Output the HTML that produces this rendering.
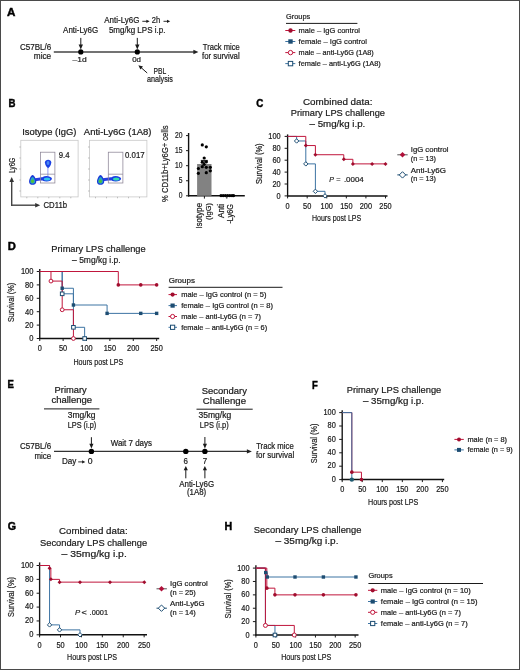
<!DOCTYPE html>
<html><head><meta charset="utf-8"><title>Figure</title>
<style>
html,body{margin:0;padding:0;background:#fff;}
svg{display:block;will-change:transform;}
text{font-family:"Liberation Sans",sans-serif;fill:#1a1a1a;stroke:#1a1a1a;stroke-width:0.2px;}
</style></head><body>
<svg width="520" height="670" viewBox="0 0 520 670">
<rect x="0.5" y="0.5" width="519" height="669" fill="#fff" stroke="#4a4a4a" stroke-width="1"/>
<text x="6.90" y="15.90" font-size="11.4" style="stroke-width:0.45px;fill:#000;stroke:#000" textLength="8.40" lengthAdjust="spacingAndGlyphs" font-weight="bold">A</text>
<text x="8.60" y="106.60" font-size="11.4" style="stroke-width:0.45px;fill:#000;stroke:#000" textLength="7.00" lengthAdjust="spacingAndGlyphs" font-weight="bold">B</text>
<text x="256.20" y="106.80" font-size="11.4" style="stroke-width:0.45px;fill:#000;stroke:#000" textLength="7.10" lengthAdjust="spacingAndGlyphs" font-weight="bold">C</text>
<text x="7.80" y="250.30" font-size="11.4" style="stroke-width:0.45px;fill:#000;stroke:#000" textLength="8.10" lengthAdjust="spacingAndGlyphs" font-weight="bold">D</text>
<text x="7.40" y="388.20" font-size="11.4" style="stroke-width:0.45px;fill:#000;stroke:#000" textLength="6.40" lengthAdjust="spacingAndGlyphs" font-weight="bold">E</text>
<text x="312.10" y="388.60" font-size="11.4" style="stroke-width:0.45px;fill:#000;stroke:#000" textLength="5.80" lengthAdjust="spacingAndGlyphs" font-weight="bold">F</text>
<text x="7.70" y="529.70" font-size="11.4" style="stroke-width:0.45px;fill:#000;stroke:#000" textLength="8.30" lengthAdjust="spacingAndGlyphs" font-weight="bold">G</text>
<text x="224.60" y="529.80" font-size="11.4" style="stroke-width:0.45px;fill:#000;stroke:#000" textLength="7.70" lengthAdjust="spacingAndGlyphs" font-weight="bold">H</text>
<text x="20.00" y="50.00" font-size="8.3" textLength="31.20" lengthAdjust="spacingAndGlyphs">C57BL/6</text>
<text x="33.80" y="58.80" font-size="8.3" textLength="17.40" lengthAdjust="spacingAndGlyphs">mice</text>
<line x1="53.80" y1="52.00" x2="194.00" y2="52.00" stroke="#444" stroke-width="1.5"/>
<polygon points="198.40,52.00 193.40,54.20 193.40,49.80" fill="#222"/>
<circle cx="80.80" cy="51.90" r="2.6" fill="#000"/>
<circle cx="137.30" cy="51.90" r="2.6" fill="#000"/>
<line x1="80.80" y1="37.90" x2="80.80" y2="45.40" stroke="#1a1a1a" stroke-width="1"/>
<polygon points="80.80,49.40 78.60,44.40 83.00,44.40" fill="#1a1a1a"/>
<line x1="137.30" y1="37.90" x2="137.30" y2="45.40" stroke="#1a1a1a" stroke-width="1"/>
<polygon points="137.30,49.40 135.10,44.40 139.50,44.40" fill="#1a1a1a"/>
<text x="63.10" y="32.70" font-size="8.3" textLength="35.10" lengthAdjust="spacingAndGlyphs">Anti-Ly6G</text>
<text x="104.30" y="23.10" font-size="8.3" textLength="35.10" lengthAdjust="spacingAndGlyphs">Anti-Ly6G</text>
<line x1="142.30" y1="21.30" x2="147.04" y2="21.30" stroke="#1a1a1a" stroke-width="0.9"/>
<polygon points="149.60,21.30 146.40,22.90 146.40,19.70" fill="#1a1a1a"/>
<text x="151.80" y="23.10" font-size="8.3" textLength="8.40" lengthAdjust="spacingAndGlyphs">2h</text>
<line x1="163.50" y1="21.30" x2="167.64" y2="21.30" stroke="#1a1a1a" stroke-width="0.9"/>
<polygon points="170.20,21.30 167.00,22.90 167.00,19.70" fill="#1a1a1a"/>
<text x="108.90" y="32.80" font-size="8.3" textLength="56.50" lengthAdjust="spacingAndGlyphs">5mg/kg LPS i.p.</text>
<text x="72.50" y="62.30" font-size="7.6" textLength="14.10" lengthAdjust="spacingAndGlyphs">–1d</text>
<text x="132.20" y="62.30" font-size="7.6" textLength="8.80" lengthAdjust="spacingAndGlyphs">0d</text>
<line x1="147.20" y1="73.00" x2="141.03" y2="67.53" stroke="#1a1a1a" stroke-width="1"/>
<polygon points="138.40,65.20 143.02,66.62 140.37,69.62" fill="#1a1a1a"/>
<text x="153.50" y="73.80" font-size="8.3" textLength="12.70" lengthAdjust="spacingAndGlyphs">PBL</text>
<text x="146.90" y="82.30" font-size="8.3" textLength="26.10" lengthAdjust="spacingAndGlyphs">analysis</text>
<text x="202.80" y="49.70" font-size="8.3" textLength="36.90" lengthAdjust="spacingAndGlyphs">Track mice</text>
<text x="202.00" y="58.90" font-size="8.3" textLength="37.70" lengthAdjust="spacingAndGlyphs">for survival</text>
<text x="286.00" y="18.70" font-size="7.6" textLength="24.20" lengthAdjust="spacingAndGlyphs">Groups</text>
<line x1="286.00" y1="23.40" x2="357.40" y2="23.40" stroke="#1a1a1a" stroke-width="1"/>
<line x1="285.30" y1="30.50" x2="295.30" y2="30.50" stroke="#c0163c" stroke-width="1"/>
<circle cx="290.50" cy="30.50" r="2.2" fill="#a10d2e"/>
<text x="298.60" y="32.90" font-size="7.6" textLength="61.40" lengthAdjust="spacingAndGlyphs">male – IgG control</text>
<line x1="285.30" y1="41.50" x2="295.30" y2="41.50" stroke="#3d74a3" stroke-width="1"/>
<rect x="288.30" y="39.30" width="4.40" height="4.40" fill="#1d4d72"/>
<text x="298.60" y="43.90" font-size="7.6" textLength="68.30" lengthAdjust="spacingAndGlyphs">female – IgG control</text>
<line x1="285.30" y1="52.60" x2="295.30" y2="52.60" stroke="#c0163c" stroke-width="1"/>
<circle cx="290.50" cy="52.60" r="2.2" fill="#fff" stroke="#c0163c" stroke-width="1"/>
<text x="298.60" y="55.00" font-size="7.6" textLength="75.20" lengthAdjust="spacingAndGlyphs">male – anti-Ly6G (1A8)</text>
<line x1="285.30" y1="63.60" x2="295.30" y2="63.60" stroke="#3d74a3" stroke-width="1"/>
<rect x="288.30" y="61.40" width="4.40" height="4.40" fill="#fff" stroke="#1d4d72" stroke-width="1"/>
<text x="298.60" y="66.00" font-size="7.6" textLength="82.20" lengthAdjust="spacingAndGlyphs">female – anti-Ly6G (1A8)</text>
<text x="22.20" y="135.40" font-size="8.4" textLength="54.30" lengthAdjust="spacingAndGlyphs">Isotype (IgG)</text>
<text x="83.80" y="135.40" font-size="8.4" textLength="67.70" lengthAdjust="spacingAndGlyphs">Anti-Ly6G (1A8)</text>
<rect x="20.8" y="140.3" width="57.3" height="56.6" fill="none" stroke="#c8c8c8" stroke-width="0.8"/>
<line x1="19.30" y1="147.00" x2="20.80" y2="147.00" stroke="#999" stroke-width="0.6"/>
<line x1="26.80" y1="196.90" x2="26.80" y2="198.30" stroke="#999" stroke-width="0.6"/>
<line x1="19.30" y1="158.00" x2="20.80" y2="158.00" stroke="#999" stroke-width="0.6"/>
<line x1="37.80" y1="196.90" x2="37.80" y2="198.30" stroke="#999" stroke-width="0.6"/>
<line x1="19.30" y1="169.00" x2="20.80" y2="169.00" stroke="#999" stroke-width="0.6"/>
<line x1="48.80" y1="196.90" x2="48.80" y2="198.30" stroke="#999" stroke-width="0.6"/>
<line x1="19.30" y1="180.00" x2="20.80" y2="180.00" stroke="#999" stroke-width="0.6"/>
<line x1="59.80" y1="196.90" x2="59.80" y2="198.30" stroke="#999" stroke-width="0.6"/>
<line x1="19.30" y1="191.00" x2="20.80" y2="191.00" stroke="#999" stroke-width="0.6"/>
<line x1="70.80" y1="196.90" x2="70.80" y2="198.30" stroke="#999" stroke-width="0.6"/>
<rect x="89.5" y="140.3" width="57.4" height="56.6" fill="none" stroke="#c8c8c8" stroke-width="0.8"/>
<line x1="88.00" y1="147.00" x2="89.50" y2="147.00" stroke="#999" stroke-width="0.6"/>
<line x1="95.50" y1="196.90" x2="95.50" y2="198.30" stroke="#999" stroke-width="0.6"/>
<line x1="88.00" y1="158.00" x2="89.50" y2="158.00" stroke="#999" stroke-width="0.6"/>
<line x1="106.50" y1="196.90" x2="106.50" y2="198.30" stroke="#999" stroke-width="0.6"/>
<line x1="88.00" y1="169.00" x2="89.50" y2="169.00" stroke="#999" stroke-width="0.6"/>
<line x1="117.50" y1="196.90" x2="117.50" y2="198.30" stroke="#999" stroke-width="0.6"/>
<line x1="88.00" y1="180.00" x2="89.50" y2="180.00" stroke="#999" stroke-width="0.6"/>
<line x1="128.50" y1="196.90" x2="128.50" y2="198.30" stroke="#999" stroke-width="0.6"/>
<line x1="88.00" y1="191.00" x2="89.50" y2="191.00" stroke="#999" stroke-width="0.6"/>
<line x1="139.50" y1="196.90" x2="139.50" y2="198.30" stroke="#999" stroke-width="0.6"/>
<text x="58.80" y="157.70" font-size="8.4" textLength="10.80" lengthAdjust="spacingAndGlyphs">9.4</text>
<text x="125.00" y="157.70" font-size="8.4" textLength="19.60" lengthAdjust="spacingAndGlyphs">0.017</text>
<path d="M35.0,178.3 C37.5,177.9 39.5,177.6 42.0,177.2 L42.0,180.4 C39.5,180.4 37.5,180.6 35.0,181.2 Z" fill="#2a3ee0"/>
<ellipse cx="46.5" cy="178.8" rx="5.4" ry="2.7" fill="#1b3ee4"/>
<ellipse cx="47.0" cy="179.0" rx="3.2" ry="1.6" fill="#33c4ee"/>
<path d="M32.6,175.0 C34.2,175.2 36.4,179.4 36.3,182.0 C36.2,184.2 34.0,184.8 32.6,184.8 C31.0,184.8 29.1,184.2 29.1,182.0 C29.0,179.4 31.0,175.2 32.6,175.0 Z" fill="#1a3ad8"/>
<path d="M32.6,177.0 C33.8,177.3 35.2,180.0 35.1,181.8 C35.0,183.3 33.8,183.7 32.6,183.7 C31.4,183.7 30.2,183.3 30.2,181.8 C30.1,180.0 31.4,177.3 32.6,177.0 Z" fill="#26a6c4"/>
<ellipse cx="32.5" cy="181.3" rx="1.5" ry="1.8" fill="#52c03a"/>
<line x1="47.90" y1="167.50" x2="47.90" y2="176.00" stroke="#7c84ee" stroke-width="0.8"/>
<path d="M44.9,162.4 C44.9,158.9 51.3,158.9 51.3,162.4 C51.3,164.8 49.4,167.2 48.1,168.2 C46.8,167.2 44.9,164.8 44.9,162.4 Z" fill="#1b40e4"/>
<ellipse cx="48.0" cy="163.0" rx="1.4" ry="2.0" fill="#4a88f4"/>
<path d="M102.9,178.3 C105.4,177.9 107.4,177.6 111.2,177.2 L111.2,180.4 C107.4,180.4 105.4,180.6 102.9,181.2 Z" fill="#2a3ee0"/>
<ellipse cx="115.7" cy="178.8" rx="5.4" ry="2.7" fill="#1b3ee4"/>
<ellipse cx="116.2" cy="179.0" rx="3.2" ry="1.6" fill="#34dcb0"/>
<path d="M100.5,175.0 C102.1,175.2 104.3,179.4 104.2,182.0 C104.1,184.2 101.9,184.8 100.5,184.8 C98.9,184.8 97.0,184.2 97.0,182.0 C96.9,179.4 98.9,175.2 100.5,175.0 Z" fill="#1a3ad8"/>
<path d="M100.5,177.0 C101.7,177.3 103.1,180.0 103.0,181.8 C102.9,183.3 101.7,183.7 100.5,183.7 C99.3,183.7 98.1,183.3 98.1,181.8 C98.0,180.0 99.3,177.3 100.5,177.0 Z" fill="#26a6c4"/>
<ellipse cx="100.4" cy="181.3" rx="1.5" ry="1.8" fill="#52c03a"/>
<rect x="40.6" y="152.2" width="14.3" height="30.8" fill="none" stroke="#8c8496" stroke-width="0.75"/>
<line x1="40.60" y1="174.20" x2="54.90" y2="174.20" stroke="#8c8496" stroke-width="0.75"/>
<rect x="108.3" y="152.2" width="14.6" height="30.8" fill="none" stroke="#8c8496" stroke-width="0.75"/>
<line x1="108.30" y1="174.20" x2="122.90" y2="174.20" stroke="#8c8496" stroke-width="0.75"/>
<line x1="11.70" y1="205.90" x2="11.70" y2="181.00" stroke="#444" stroke-width="1.4"/>
<polygon points="11.70,177.10 14.00,182.10 9.40,182.10" fill="#333"/>
<line x1="11.00" y1="205.20" x2="36.00" y2="205.20" stroke="#444" stroke-width="1.4"/>
<polygon points="40.20,205.20 35.20,207.50 35.20,202.90" fill="#333"/>
<text transform="translate(15.00,173.00) rotate(-90)" x="0" y="0" font-size="8.2" textLength="15.30" lengthAdjust="spacingAndGlyphs" fill="#1a1a1a">Ly6G</text>
<text x="43.50" y="208.40" font-size="8.2" textLength="23.50" lengthAdjust="spacingAndGlyphs">CD11b</text>
<line x1="188.60" y1="133.00" x2="188.60" y2="196.50" stroke="#111" stroke-width="1.4"/>
<line x1="188.00" y1="195.80" x2="244.80" y2="195.80" stroke="#111" stroke-width="1.4"/>
<line x1="186.00" y1="195.80" x2="188.60" y2="195.80" stroke="#1a1a1a" stroke-width="1"/>
<text x="178.85" y="198.20" font-size="8.2" textLength="3.75" lengthAdjust="spacingAndGlyphs">0</text>
<line x1="186.00" y1="180.75" x2="188.60" y2="180.75" stroke="#1a1a1a" stroke-width="1"/>
<text x="178.85" y="183.15" font-size="8.2" textLength="3.75" lengthAdjust="spacingAndGlyphs">5</text>
<line x1="186.00" y1="165.70" x2="188.60" y2="165.70" stroke="#1a1a1a" stroke-width="1"/>
<text x="175.10" y="168.10" font-size="8.2" textLength="7.50" lengthAdjust="spacingAndGlyphs">10</text>
<line x1="186.00" y1="150.65" x2="188.60" y2="150.65" stroke="#1a1a1a" stroke-width="1"/>
<text x="175.10" y="153.05" font-size="8.2" textLength="7.50" lengthAdjust="spacingAndGlyphs">15</text>
<line x1="186.00" y1="135.60" x2="188.60" y2="135.60" stroke="#1a1a1a" stroke-width="1"/>
<text x="175.10" y="138.00" font-size="8.2" textLength="7.50" lengthAdjust="spacingAndGlyphs">20</text>
<rect x="197.1" y="164.0" width="14.4" height="31.8" fill="#828282"/>
<line x1="204.30" y1="160.40" x2="204.30" y2="164.00" stroke="#1a1a1a" stroke-width="1"/>
<line x1="200.80" y1="160.40" x2="207.80" y2="160.40" stroke="#1a1a1a" stroke-width="1"/>
<circle cx="202.30" cy="144.90" r="1.6" fill="#000"/>
<circle cx="206.30" cy="146.80" r="1.6" fill="#000"/>
<circle cx="204.20" cy="158.00" r="1.6" fill="#000"/>
<circle cx="202.30" cy="162.20" r="1.6" fill="#000"/>
<circle cx="206.40" cy="161.80" r="1.6" fill="#000"/>
<circle cx="202.30" cy="166.70" r="1.6" fill="#000"/>
<circle cx="206.30" cy="167.30" r="1.6" fill="#000"/>
<circle cx="210.30" cy="167.30" r="1.6" fill="#000"/>
<circle cx="198.40" cy="168.50" r="1.6" fill="#000"/>
<circle cx="210.30" cy="170.80" r="1.6" fill="#000"/>
<circle cx="198.40" cy="173.30" r="1.6" fill="#000"/>
<circle cx="206.30" cy="172.70" r="1.6" fill="#000"/>
<circle cx="204.20" cy="164.30" r="1.6" fill="#000"/>
<circle cx="221.00" cy="195.60" r="1.6" fill="#000"/>
<circle cx="223.20" cy="195.60" r="1.6" fill="#000"/>
<circle cx="225.40" cy="195.60" r="1.6" fill="#000"/>
<circle cx="227.60" cy="195.60" r="1.6" fill="#000"/>
<circle cx="229.80" cy="195.60" r="1.6" fill="#000"/>
<circle cx="232.00" cy="195.60" r="1.6" fill="#000"/>
<circle cx="233.60" cy="195.60" r="1.6" fill="#000"/>
<line x1="204.40" y1="196.00" x2="204.40" y2="198.60" stroke="#1a1a1a" stroke-width="1"/>
<line x1="226.80" y1="196.00" x2="226.80" y2="198.60" stroke="#1a1a1a" stroke-width="1"/>
<text transform="translate(168.00,202.00) rotate(-90)" x="0" y="0" font-size="9.4" textLength="76.60" lengthAdjust="spacingAndGlyphs" fill="#1a1a1a">% CD11b+Ly6G+ cells</text>
<text transform="translate(201.90,228.60) rotate(-90)" x="0" y="0" font-size="8.4" textLength="25.70" lengthAdjust="spacingAndGlyphs" fill="#1a1a1a">Isotype</text>
<text transform="translate(211.00,220.00) rotate(-90)" x="0" y="0" font-size="8.0" textLength="16.90" lengthAdjust="spacingAndGlyphs" fill="#1a1a1a">(IgG)</text>
<text transform="translate(223.80,218.10) rotate(-90)" x="0" y="0" font-size="8.5" textLength="14.30" lengthAdjust="spacingAndGlyphs" fill="#1a1a1a">Anti</text>
<text transform="translate(233.10,223.60) rotate(-90)" x="0" y="0" font-size="8.3" textLength="19.60" lengthAdjust="spacingAndGlyphs" fill="#1a1a1a">-Ly6G</text>
<text x="303.00" y="105.20" font-size="9.3" textLength="69.50" lengthAdjust="spacingAndGlyphs">Combined data:</text>
<text x="290.80" y="116.40" font-size="9.3" textLength="94.20" lengthAdjust="spacingAndGlyphs">Primary LPS challenge</text>
<text x="309.50" y="127.30" font-size="9.3" textLength="55.80" lengthAdjust="spacingAndGlyphs">– 5mg/kg i.p.</text>
<line x1="287.60" y1="134.40" x2="287.60" y2="196.50" stroke="#111" stroke-width="1.35"/>
<line x1="287.00" y1="195.90" x2="387.50" y2="195.90" stroke="#111" stroke-width="1.5"/>
<line x1="284.60" y1="195.90" x2="287.60" y2="195.90" stroke="#1a1a1a" stroke-width="1"/>
<line x1="284.60" y1="184.00" x2="287.60" y2="184.00" stroke="#1a1a1a" stroke-width="1"/>
<line x1="284.60" y1="172.10" x2="287.60" y2="172.10" stroke="#1a1a1a" stroke-width="1"/>
<line x1="284.60" y1="160.20" x2="287.60" y2="160.20" stroke="#1a1a1a" stroke-width="1"/>
<line x1="284.60" y1="148.30" x2="287.60" y2="148.30" stroke="#1a1a1a" stroke-width="1"/>
<line x1="284.60" y1="136.40" x2="287.60" y2="136.40" stroke="#1a1a1a" stroke-width="1"/>
<line x1="287.60" y1="195.90" x2="287.60" y2="198.40" stroke="#1a1a1a" stroke-width="1"/>
<line x1="307.18" y1="195.90" x2="307.18" y2="198.40" stroke="#1a1a1a" stroke-width="1"/>
<line x1="326.76" y1="195.90" x2="326.76" y2="198.40" stroke="#1a1a1a" stroke-width="1"/>
<line x1="346.34" y1="195.90" x2="346.34" y2="198.40" stroke="#1a1a1a" stroke-width="1"/>
<line x1="365.92" y1="195.90" x2="365.92" y2="198.40" stroke="#1a1a1a" stroke-width="1"/>
<line x1="385.50" y1="195.90" x2="385.50" y2="198.40" stroke="#1a1a1a" stroke-width="1"/>
<text x="276.50" y="198.55" font-size="8.2" textLength="4.10" lengthAdjust="spacingAndGlyphs">0</text>
<text x="272.40" y="186.65" font-size="8.2" textLength="8.20" lengthAdjust="spacingAndGlyphs">20</text>
<text x="272.40" y="174.75" font-size="8.2" textLength="8.20" lengthAdjust="spacingAndGlyphs">40</text>
<text x="272.40" y="162.85" font-size="8.2" textLength="8.20" lengthAdjust="spacingAndGlyphs">60</text>
<text x="272.40" y="150.95" font-size="8.2" textLength="8.20" lengthAdjust="spacingAndGlyphs">80</text>
<text x="268.30" y="139.05" font-size="8.2" textLength="12.30" lengthAdjust="spacingAndGlyphs">100</text>
<text x="285.55" y="208.70" font-size="8.2" textLength="4.10" lengthAdjust="spacingAndGlyphs">0</text>
<text x="303.08" y="208.70" font-size="8.2" textLength="8.20" lengthAdjust="spacingAndGlyphs">50</text>
<text x="320.61" y="208.70" font-size="8.2" textLength="12.30" lengthAdjust="spacingAndGlyphs">100</text>
<text x="340.19" y="208.70" font-size="8.2" textLength="12.30" lengthAdjust="spacingAndGlyphs">150</text>
<text x="359.77" y="208.70" font-size="8.2" textLength="12.30" lengthAdjust="spacingAndGlyphs">200</text>
<text x="379.35" y="208.70" font-size="8.2" textLength="12.30" lengthAdjust="spacingAndGlyphs">250</text>
<text transform="translate(261.50,184.00) rotate(-90)" x="0" y="0" font-size="9.4" textLength="40.60" lengthAdjust="spacingAndGlyphs" fill="#1a1a1a">Survival (%)</text>
<text x="311.90" y="220.80" font-size="9.1" textLength="49.30" lengthAdjust="spacingAndGlyphs">Hours post LPS</text>
<text x="329.30" y="181.90" font-size="8.0" textLength="4.70" lengthAdjust="spacingAndGlyphs" font-style="italic">P</text>
<text x="336.30" y="181.90" font-size="8.0" textLength="4.30" lengthAdjust="spacingAndGlyphs">=</text>
<text x="343.90" y="181.90" font-size="8.0" textLength="19.90" lengthAdjust="spacingAndGlyphs">.0004</text>
<path d="M287.60,136.40 L296.61,136.40 L296.61,140.98 L305.81,140.98 L305.81,163.89 L315.40,163.89 L315.40,191.32 L325.00,191.32 L325.00,195.90" fill="none" stroke="#3d74a3" stroke-width="1.0"/>
<path d="M287.60,136.40 L305.81,136.40 L305.81,145.56 L315.40,145.56 L315.40,154.73 L343.79,154.73 L343.79,159.31 L352.88,159.31 L352.88,163.89 L385.50,163.89" fill="none" stroke="#c0163c" stroke-width="1.0"/>
<polygon points="305.81,143.56 307.81,145.56 305.81,147.56 303.81,145.56" fill="#a10d2e"/>
<polygon points="315.40,152.73 317.40,154.73 315.40,156.73 313.40,154.73" fill="#a10d2e"/>
<polygon points="343.79,157.31 345.79,159.31 343.79,161.31 341.79,159.31" fill="#a10d2e"/>
<polygon points="352.88,161.89 354.88,163.89 352.88,165.89 350.88,163.89" fill="#a10d2e"/>
<polygon points="372.11,161.89 374.11,163.89 372.11,165.89 370.11,163.89" fill="#a10d2e"/>
<polygon points="385.50,161.89 387.50,163.89 385.50,165.89 383.50,163.89" fill="#a10d2e"/>
<polygon points="296.61,138.78 298.81,140.98 296.61,143.18 294.41,140.98" fill="#fff" stroke="#1d4d72" stroke-width="1"/>
<polygon points="305.81,161.69 308.01,163.89 305.81,166.09 303.61,163.89" fill="#fff" stroke="#1d4d72" stroke-width="1"/>
<polygon points="315.40,189.12 317.60,191.32 315.40,193.52 313.20,191.32" fill="#fff" stroke="#1d4d72" stroke-width="1"/>
<polygon points="325.00,193.70 327.20,195.90 325.00,198.10 322.80,195.90" fill="#fff" stroke="#1d4d72" stroke-width="1"/>
<line x1="397.30" y1="154.80" x2="407.70" y2="154.80" stroke="#555" stroke-width="1"/>
<polygon points="402.50,152.00 405.30,154.80 402.50,157.60 399.70,154.80" fill="#b0103a"/>
<line x1="397.30" y1="174.90" x2="407.70" y2="174.90" stroke="#1d4d72" stroke-width="1"/>
<polygon points="402.50,171.70 405.70,174.90 402.50,178.10 399.30,174.90" fill="#fff" stroke="#1d4d72" stroke-width="1"/>
<text x="410.80" y="152.30" font-size="7.6" textLength="37.70" lengthAdjust="spacingAndGlyphs">IgG control</text>
<text x="410.80" y="160.80" font-size="7.6" textLength="25.20" lengthAdjust="spacingAndGlyphs">(n = 13)</text>
<text x="410.80" y="172.60" font-size="7.6" textLength="35.20" lengthAdjust="spacingAndGlyphs">Anti-Ly6G</text>
<text x="410.80" y="181.20" font-size="7.6" textLength="25.20" lengthAdjust="spacingAndGlyphs">(n = 13)</text>
<text x="51.30" y="252.20" font-size="9.3" textLength="94.40" lengthAdjust="spacingAndGlyphs">Primary LPS challenge</text>
<text x="72.10" y="262.60" font-size="9.3" textLength="48.50" lengthAdjust="spacingAndGlyphs">– 5mg/kg i.p.</text>
<line x1="39.75" y1="269.00" x2="39.75" y2="339.10" stroke="#111" stroke-width="1.35"/>
<line x1="39.15" y1="338.50" x2="159.20" y2="338.50" stroke="#111" stroke-width="1.5"/>
<line x1="36.75" y1="338.50" x2="39.75" y2="338.50" stroke="#1a1a1a" stroke-width="1"/>
<line x1="36.75" y1="325.10" x2="39.75" y2="325.10" stroke="#1a1a1a" stroke-width="1"/>
<line x1="36.75" y1="311.70" x2="39.75" y2="311.70" stroke="#1a1a1a" stroke-width="1"/>
<line x1="36.75" y1="298.30" x2="39.75" y2="298.30" stroke="#1a1a1a" stroke-width="1"/>
<line x1="36.75" y1="284.90" x2="39.75" y2="284.90" stroke="#1a1a1a" stroke-width="1"/>
<line x1="36.75" y1="271.50" x2="39.75" y2="271.50" stroke="#1a1a1a" stroke-width="1"/>
<line x1="39.75" y1="338.50" x2="39.75" y2="341.00" stroke="#1a1a1a" stroke-width="1"/>
<line x1="63.13" y1="338.50" x2="63.13" y2="341.00" stroke="#1a1a1a" stroke-width="1"/>
<line x1="86.51" y1="338.50" x2="86.51" y2="341.00" stroke="#1a1a1a" stroke-width="1"/>
<line x1="109.89" y1="338.50" x2="109.89" y2="341.00" stroke="#1a1a1a" stroke-width="1"/>
<line x1="133.27" y1="338.50" x2="133.27" y2="341.00" stroke="#1a1a1a" stroke-width="1"/>
<line x1="156.65" y1="338.50" x2="156.65" y2="341.00" stroke="#1a1a1a" stroke-width="1"/>
<text x="29.30" y="341.30" font-size="8.2" textLength="4.20" lengthAdjust="spacingAndGlyphs">0</text>
<text x="25.10" y="327.90" font-size="8.2" textLength="8.40" lengthAdjust="spacingAndGlyphs">20</text>
<text x="25.10" y="314.50" font-size="8.2" textLength="8.40" lengthAdjust="spacingAndGlyphs">40</text>
<text x="25.10" y="301.10" font-size="8.2" textLength="8.40" lengthAdjust="spacingAndGlyphs">60</text>
<text x="25.10" y="287.70" font-size="8.2" textLength="8.40" lengthAdjust="spacingAndGlyphs">80</text>
<text x="20.90" y="274.30" font-size="8.2" textLength="12.60" lengthAdjust="spacingAndGlyphs">100</text>
<text x="37.70" y="351.30" font-size="8.2" textLength="4.10" lengthAdjust="spacingAndGlyphs">0</text>
<text x="59.03" y="351.30" font-size="8.2" textLength="8.20" lengthAdjust="spacingAndGlyphs">50</text>
<text x="80.36" y="351.30" font-size="8.2" textLength="12.30" lengthAdjust="spacingAndGlyphs">100</text>
<text x="103.74" y="351.30" font-size="8.2" textLength="12.30" lengthAdjust="spacingAndGlyphs">150</text>
<text x="127.12" y="351.30" font-size="8.2" textLength="12.30" lengthAdjust="spacingAndGlyphs">200</text>
<text x="150.50" y="351.30" font-size="8.2" textLength="12.30" lengthAdjust="spacingAndGlyphs">250</text>
<text transform="translate(14.00,322.00) rotate(-90)" x="0" y="0" font-size="9.4" textLength="39.10" lengthAdjust="spacingAndGlyphs" fill="#1a1a1a">Survival (%)</text>
<text x="73.40" y="364.50" font-size="9.1" textLength="49.80" lengthAdjust="spacingAndGlyphs">Hours post LPS</text>
<path d="M39.75,271.50 L62.19,271.50 L62.19,293.81 L73.42,293.81 L73.42,327.31 L84.64,327.31 L84.64,338.50" fill="none" stroke="#3d74a3" stroke-width="1.0"/>
<path d="M39.75,271.50 L62.19,271.50 L62.19,288.25 L73.42,288.25 L73.42,305.00 L107.08,305.00 L107.08,313.38 L156.65,313.38" fill="none" stroke="#3d74a3" stroke-width="1.0"/>
<path d="M39.75,271.50 L50.97,271.50 L50.97,281.08 L62.19,281.08 L62.19,309.76 L73.42,309.76 L73.42,338.50" fill="none" stroke="#c0163c" stroke-width="1.0"/>
<path d="M39.75,271.50 L118.31,271.50 L118.31,284.90 L156.65,284.90" fill="none" stroke="#c0163c" stroke-width="1.0"/>
<circle cx="118.31" cy="284.90" r="1.8" fill="#a10d2e"/>
<circle cx="140.75" cy="284.90" r="1.8" fill="#a10d2e"/>
<circle cx="156.65" cy="284.90" r="1.8" fill="#a10d2e"/>
<rect x="60.49" y="286.55" width="3.40" height="3.40" fill="#1d4d72"/>
<rect x="71.72" y="303.30" width="3.40" height="3.40" fill="#1d4d72"/>
<rect x="105.38" y="311.68" width="3.40" height="3.40" fill="#1d4d72"/>
<rect x="139.05" y="311.68" width="3.40" height="3.40" fill="#1d4d72"/>
<rect x="154.95" y="311.68" width="3.40" height="3.40" fill="#1d4d72"/>
<circle cx="50.97" cy="281.08" r="1.9" fill="#fff" stroke="#c0163c" stroke-width="1"/>
<circle cx="62.19" cy="309.76" r="1.9" fill="#fff" stroke="#c0163c" stroke-width="1"/>
<circle cx="73.42" cy="338.50" r="1.9" fill="#fff" stroke="#c0163c" stroke-width="1"/>
<rect x="60.39" y="292.01" width="3.60" height="3.60" fill="#fff" stroke="#1d4d72" stroke-width="1"/>
<rect x="71.62" y="325.51" width="3.60" height="3.60" fill="#fff" stroke="#1d4d72" stroke-width="1"/>
<rect x="82.84" y="336.70" width="3.60" height="3.60" fill="#fff" stroke="#1d4d72" stroke-width="1"/>
<text x="168.70" y="282.50" font-size="7.4" textLength="26.30" lengthAdjust="spacingAndGlyphs">Groups</text>
<line x1="168.60" y1="287.30" x2="282.50" y2="287.30" stroke="#1a1a1a" stroke-width="1"/>
<line x1="168.50" y1="294.60" x2="177.00" y2="294.60" stroke="#c0163c" stroke-width="1"/>
<circle cx="172.60" cy="294.60" r="2.1" fill="#a10d2e"/>
<text x="181.20" y="297.00" font-size="7.4" textLength="85.20" lengthAdjust="spacingAndGlyphs">male – IgG control (n = 5)</text>
<line x1="168.50" y1="305.60" x2="177.00" y2="305.60" stroke="#3d74a3" stroke-width="1"/>
<rect x="170.50" y="303.50" width="4.20" height="4.20" fill="#1d4d72"/>
<text x="181.20" y="308.00" font-size="7.4" textLength="91.80" lengthAdjust="spacingAndGlyphs">female – IgG control (n = 8)</text>
<line x1="168.50" y1="316.50" x2="177.00" y2="316.50" stroke="#c0163c" stroke-width="1"/>
<circle cx="172.60" cy="316.50" r="2.1" fill="#fff" stroke="#c0163c" stroke-width="1"/>
<text x="181.20" y="318.90" font-size="7.4" textLength="79.80" lengthAdjust="spacingAndGlyphs">male – anti-Ly6G (n = 7)</text>
<line x1="168.50" y1="327.30" x2="177.00" y2="327.30" stroke="#3d74a3" stroke-width="1"/>
<rect x="170.50" y="325.20" width="4.20" height="4.20" fill="#fff" stroke="#1d4d72" stroke-width="1"/>
<text x="181.20" y="329.70" font-size="7.4" textLength="86.00" lengthAdjust="spacingAndGlyphs">female – anti-Ly6G (n = 6)</text>
<text x="54.60" y="393.00" font-size="8.6" textLength="32.10" lengthAdjust="spacingAndGlyphs">Primary</text>
<text x="51.40" y="402.90" font-size="8.6" textLength="40.60" lengthAdjust="spacingAndGlyphs">challenge</text>
<line x1="44.00" y1="408.90" x2="99.40" y2="408.90" stroke="#1a1a1a" stroke-width="1"/>
<text x="67.70" y="418.40" font-size="8.2" textLength="27.90" lengthAdjust="spacingAndGlyphs">3mg/kg</text>
<text x="67.70" y="427.90" font-size="8.2" textLength="28.60" lengthAdjust="spacingAndGlyphs">LPS (i.p)</text>
<text x="20.10" y="448.60" font-size="8.2" textLength="31.10" lengthAdjust="spacingAndGlyphs">C57BL/6</text>
<text x="34.50" y="458.60" font-size="8.2" textLength="16.70" lengthAdjust="spacingAndGlyphs">mice</text>
<line x1="54.00" y1="451.40" x2="247.00" y2="451.40" stroke="#333" stroke-width="1.3"/>
<polygon points="251.90,451.40 246.90,453.60 246.90,449.20" fill="#222"/>
<circle cx="91.40" cy="451.40" r="2.7" fill="#000"/>
<circle cx="185.80" cy="451.40" r="2.7" fill="#000"/>
<circle cx="204.90" cy="451.40" r="2.7" fill="#000"/>
<line x1="91.40" y1="437.20" x2="91.40" y2="444.72" stroke="#1a1a1a" stroke-width="1"/>
<polygon points="91.40,448.40 89.30,443.80 93.50,443.80" fill="#1a1a1a"/>
<line x1="204.90" y1="437.00" x2="204.90" y2="444.72" stroke="#1a1a1a" stroke-width="1"/>
<polygon points="204.90,448.40 202.80,443.80 207.00,443.80" fill="#1a1a1a"/>
<text x="62.00" y="463.70" font-size="8.2" textLength="14.40" lengthAdjust="spacingAndGlyphs">Day</text>
<line x1="78.20" y1="461.90" x2="82.74" y2="461.90" stroke="#1a1a1a" stroke-width="0.9"/>
<polygon points="85.30,461.90 82.10,463.50 82.10,460.30" fill="#1a1a1a"/>
<text x="87.80" y="463.70" font-size="8.2" textLength="4.80" lengthAdjust="spacingAndGlyphs">0</text>
<text x="110.70" y="446.40" font-size="8.2" textLength="41.30" lengthAdjust="spacingAndGlyphs">Wait 7 days</text>
<text x="183.60" y="463.80" font-size="8.2" textLength="4.40" lengthAdjust="spacingAndGlyphs">6</text>
<text x="202.70" y="463.80" font-size="8.2" textLength="4.40" lengthAdjust="spacingAndGlyphs">7</text>
<line x1="185.80" y1="478.30" x2="185.80" y2="469.42" stroke="#1a1a1a" stroke-width="1"/>
<polygon points="185.80,465.90 187.90,470.30 183.70,470.30" fill="#1a1a1a"/>
<line x1="204.90" y1="478.30" x2="204.90" y2="469.42" stroke="#1a1a1a" stroke-width="1"/>
<polygon points="204.90,465.90 207.00,470.30 202.80,470.30" fill="#1a1a1a"/>
<text x="179.20" y="486.70" font-size="8.2" textLength="35.00" lengthAdjust="spacingAndGlyphs">Anti-Ly6G</text>
<text x="186.90" y="495.40" font-size="8.2" textLength="19.30" lengthAdjust="spacingAndGlyphs">(1A8)</text>
<text x="201.70" y="393.50" font-size="8.6" textLength="45.20" lengthAdjust="spacingAndGlyphs">Secondary</text>
<text x="202.70" y="404.00" font-size="8.6" textLength="43.30" lengthAdjust="spacingAndGlyphs">Challenge</text>
<line x1="196.50" y1="409.20" x2="252.70" y2="409.20" stroke="#1a1a1a" stroke-width="1"/>
<text x="198.50" y="418.00" font-size="8.2" textLength="32.70" lengthAdjust="spacingAndGlyphs">35mg/kg</text>
<text x="199.80" y="428.00" font-size="8.2" textLength="28.90" lengthAdjust="spacingAndGlyphs">LPS (i.p)</text>
<text x="256.20" y="449.00" font-size="8.2" textLength="37.50" lengthAdjust="spacingAndGlyphs">Track mice</text>
<text x="255.90" y="458.30" font-size="8.2" textLength="38.30" lengthAdjust="spacingAndGlyphs">for survival</text>
<text x="346.70" y="392.90" font-size="9.3" textLength="94.60" lengthAdjust="spacingAndGlyphs">Primary LPS challenge</text>
<text x="362.90" y="403.80" font-size="9.3" textLength="61.10" lengthAdjust="spacingAndGlyphs">– 35mg/kg i.p.</text>
<line x1="342.20" y1="410.20" x2="342.20" y2="480.20" stroke="#111" stroke-width="1.35"/>
<line x1="341.60" y1="479.60" x2="444.20" y2="479.60" stroke="#111" stroke-width="1.5"/>
<line x1="339.20" y1="479.60" x2="342.20" y2="479.60" stroke="#1a1a1a" stroke-width="1"/>
<line x1="339.20" y1="466.20" x2="342.20" y2="466.20" stroke="#1a1a1a" stroke-width="1"/>
<line x1="339.20" y1="452.80" x2="342.20" y2="452.80" stroke="#1a1a1a" stroke-width="1"/>
<line x1="339.20" y1="439.40" x2="342.20" y2="439.40" stroke="#1a1a1a" stroke-width="1"/>
<line x1="339.20" y1="426.00" x2="342.20" y2="426.00" stroke="#1a1a1a" stroke-width="1"/>
<line x1="339.20" y1="412.60" x2="342.20" y2="412.60" stroke="#1a1a1a" stroke-width="1"/>
<line x1="342.20" y1="479.60" x2="342.20" y2="482.10" stroke="#1a1a1a" stroke-width="1"/>
<line x1="362.24" y1="479.60" x2="362.24" y2="482.10" stroke="#1a1a1a" stroke-width="1"/>
<line x1="382.28" y1="479.60" x2="382.28" y2="482.10" stroke="#1a1a1a" stroke-width="1"/>
<line x1="402.32" y1="479.60" x2="402.32" y2="482.10" stroke="#1a1a1a" stroke-width="1"/>
<line x1="422.36" y1="479.60" x2="422.36" y2="482.10" stroke="#1a1a1a" stroke-width="1"/>
<line x1="442.40" y1="479.60" x2="442.40" y2="482.10" stroke="#1a1a1a" stroke-width="1"/>
<text x="331.70" y="481.70" font-size="8.2" textLength="4.10" lengthAdjust="spacingAndGlyphs">0</text>
<text x="327.60" y="468.30" font-size="8.2" textLength="8.20" lengthAdjust="spacingAndGlyphs">20</text>
<text x="327.60" y="454.90" font-size="8.2" textLength="8.20" lengthAdjust="spacingAndGlyphs">40</text>
<text x="327.60" y="441.50" font-size="8.2" textLength="8.20" lengthAdjust="spacingAndGlyphs">60</text>
<text x="327.60" y="428.10" font-size="8.2" textLength="8.20" lengthAdjust="spacingAndGlyphs">80</text>
<text x="323.50" y="414.70" font-size="8.2" textLength="12.30" lengthAdjust="spacingAndGlyphs">100</text>
<text x="340.15" y="492.20" font-size="8.2" textLength="4.10" lengthAdjust="spacingAndGlyphs">0</text>
<text x="358.14" y="492.20" font-size="8.2" textLength="8.20" lengthAdjust="spacingAndGlyphs">50</text>
<text x="376.13" y="492.20" font-size="8.2" textLength="12.30" lengthAdjust="spacingAndGlyphs">100</text>
<text x="396.17" y="492.20" font-size="8.2" textLength="12.30" lengthAdjust="spacingAndGlyphs">150</text>
<text x="416.21" y="492.20" font-size="8.2" textLength="12.30" lengthAdjust="spacingAndGlyphs">200</text>
<text x="436.25" y="492.20" font-size="8.2" textLength="12.30" lengthAdjust="spacingAndGlyphs">250</text>
<text transform="translate(317.30,463.30) rotate(-90)" x="0" y="0" font-size="9.4" textLength="39.70" lengthAdjust="spacingAndGlyphs" fill="#1a1a1a">Survival (%)</text>
<text x="368.00" y="504.70" font-size="9.1" textLength="50.20" lengthAdjust="spacingAndGlyphs">Hours post LPS</text>
<path d="M342.20,412.60 L351.82,412.60 L351.82,472.16 L361.44,472.16 L361.44,479.60" fill="none" stroke="#c0163c" stroke-width="1.0"/>
<path d="M342.20,412.60 L351.82,412.60 L351.82,479.60" fill="none" stroke="#3d74a3" stroke-width="1.0"/>
<circle cx="351.82" cy="472.16" r="1.8" fill="#a10d2e"/>
<circle cx="361.44" cy="479.60" r="1.8" fill="#a10d2e"/>
<circle cx="351.82" cy="479.60" r="2.2" fill="#1f5a70"/>
<line x1="454.40" y1="439.40" x2="463.80" y2="439.40" stroke="#c0163c" stroke-width="1"/>
<circle cx="459.00" cy="439.40" r="2.0" fill="#a10d2e"/>
<line x1="454.40" y1="449.90" x2="463.80" y2="449.90" stroke="#3d74a3" stroke-width="1"/>
<rect x="457.00" y="447.90" width="4.00" height="4.00" fill="#1d4d72"/>
<text x="467.40" y="441.80" font-size="7.2" textLength="39.60" lengthAdjust="spacingAndGlyphs">male (n = 8)</text>
<text x="467.40" y="452.40" font-size="7.2" textLength="45.40" lengthAdjust="spacingAndGlyphs">female (n = 9)</text>
<text x="59.10" y="534.20" font-size="9.3" textLength="68.60" lengthAdjust="spacingAndGlyphs">Combined data:</text>
<text x="40.00" y="546.30" font-size="9.3" textLength="107.10" lengthAdjust="spacingAndGlyphs">Secondary LPS challenge</text>
<text x="61.50" y="557.30" font-size="9.3" textLength="65.30" lengthAdjust="spacingAndGlyphs">– 35mg/kg i.p.</text>
<line x1="39.60" y1="562.40" x2="39.60" y2="635.40" stroke="#111" stroke-width="1.35"/>
<line x1="39.00" y1="634.80" x2="147.00" y2="634.80" stroke="#111" stroke-width="1.5"/>
<line x1="36.60" y1="634.80" x2="39.60" y2="634.80" stroke="#1a1a1a" stroke-width="1"/>
<line x1="36.60" y1="620.94" x2="39.60" y2="620.94" stroke="#1a1a1a" stroke-width="1"/>
<line x1="36.60" y1="607.08" x2="39.60" y2="607.08" stroke="#1a1a1a" stroke-width="1"/>
<line x1="36.60" y1="593.22" x2="39.60" y2="593.22" stroke="#1a1a1a" stroke-width="1"/>
<line x1="36.60" y1="579.36" x2="39.60" y2="579.36" stroke="#1a1a1a" stroke-width="1"/>
<line x1="36.60" y1="565.50" x2="39.60" y2="565.50" stroke="#1a1a1a" stroke-width="1"/>
<line x1="39.60" y1="634.80" x2="39.60" y2="637.30" stroke="#1a1a1a" stroke-width="1"/>
<line x1="60.51" y1="634.80" x2="60.51" y2="637.30" stroke="#1a1a1a" stroke-width="1"/>
<line x1="81.42" y1="634.80" x2="81.42" y2="637.30" stroke="#1a1a1a" stroke-width="1"/>
<line x1="102.33" y1="634.80" x2="102.33" y2="637.30" stroke="#1a1a1a" stroke-width="1"/>
<line x1="123.24" y1="634.80" x2="123.24" y2="637.30" stroke="#1a1a1a" stroke-width="1"/>
<line x1="144.15" y1="634.80" x2="144.15" y2="637.30" stroke="#1a1a1a" stroke-width="1"/>
<text x="29.30" y="637.20" font-size="8.2" textLength="4.20" lengthAdjust="spacingAndGlyphs">0</text>
<text x="25.10" y="623.34" font-size="8.2" textLength="8.40" lengthAdjust="spacingAndGlyphs">20</text>
<text x="25.10" y="609.48" font-size="8.2" textLength="8.40" lengthAdjust="spacingAndGlyphs">40</text>
<text x="25.10" y="595.62" font-size="8.2" textLength="8.40" lengthAdjust="spacingAndGlyphs">60</text>
<text x="25.10" y="581.76" font-size="8.2" textLength="8.40" lengthAdjust="spacingAndGlyphs">80</text>
<text x="20.90" y="567.90" font-size="8.2" textLength="12.60" lengthAdjust="spacingAndGlyphs">100</text>
<text x="37.55" y="647.70" font-size="8.2" textLength="4.10" lengthAdjust="spacingAndGlyphs">0</text>
<text x="56.41" y="647.70" font-size="8.2" textLength="8.20" lengthAdjust="spacingAndGlyphs">50</text>
<text x="75.27" y="647.70" font-size="8.2" textLength="12.30" lengthAdjust="spacingAndGlyphs">100</text>
<text x="96.18" y="647.70" font-size="8.2" textLength="12.30" lengthAdjust="spacingAndGlyphs">150</text>
<text x="117.09" y="647.70" font-size="8.2" textLength="12.30" lengthAdjust="spacingAndGlyphs">200</text>
<text x="138.00" y="647.70" font-size="8.2" textLength="12.30" lengthAdjust="spacingAndGlyphs">250</text>
<text transform="translate(14.00,617.00) rotate(-90)" x="0" y="0" font-size="9.4" textLength="40.00" lengthAdjust="spacingAndGlyphs" fill="#1a1a1a">Survival (%)</text>
<text x="67.00" y="660.40" font-size="9.1" textLength="50.00" lengthAdjust="spacingAndGlyphs">Hours post LPS</text>
<text x="75.00" y="615.00" font-size="8.0" textLength="5.20" lengthAdjust="spacingAndGlyphs" font-style="italic">P</text>
<text x="81.60" y="615.00" font-size="8.0" textLength="5.30" lengthAdjust="spacingAndGlyphs">&lt;</text>
<text x="89.60" y="615.00" font-size="8.0" textLength="18.40" lengthAdjust="spacingAndGlyphs">.0001</text>
<path d="M39.60,565.50 L49.55,565.50 L49.55,624.89 L59.55,624.89 L59.55,629.88 L80.00,629.88 L80.00,634.80" fill="none" stroke="#3d74a3" stroke-width="1.0"/>
<path d="M39.60,565.50 L49.55,565.50 L49.55,568.27 L50.85,568.27 L50.85,579.36 L59.55,579.36 L59.55,582.13 L144.32,582.13" fill="none" stroke="#c0163c" stroke-width="1.0"/>
<polygon points="49.55,566.27 51.55,568.27 49.55,570.27 47.55,568.27" fill="#a10d2e"/>
<polygon points="50.85,577.36 52.85,579.36 50.85,581.36 48.85,579.36" fill="#a10d2e"/>
<polygon points="59.55,580.13 61.55,582.13 59.55,584.13 57.55,582.13" fill="#a10d2e"/>
<polygon points="80.00,580.13 82.00,582.13 80.00,584.13 78.00,582.13" fill="#a10d2e"/>
<polygon points="109.98,580.13 111.98,582.13 109.98,584.13 107.98,582.13" fill="#a10d2e"/>
<polygon points="144.32,580.13 146.32,582.13 144.32,584.13 142.32,582.13" fill="#a10d2e"/>
<polygon points="49.55,622.69 51.75,624.89 49.55,627.09 47.35,624.89" fill="#fff" stroke="#1d4d72" stroke-width="1"/>
<polygon points="59.55,627.68 61.75,629.88 59.55,632.08 57.35,629.88" fill="#fff" stroke="#1d4d72" stroke-width="1"/>
<polygon points="80.00,632.60 82.20,634.80 80.00,637.00 77.80,634.80" fill="#fff" stroke="#1d4d72" stroke-width="1"/>
<line x1="156.50" y1="588.80" x2="166.90" y2="588.80" stroke="#555" stroke-width="1"/>
<polygon points="161.50,586.00 164.30,588.80 161.50,591.60 158.70,588.80" fill="#b0103a"/>
<line x1="156.50" y1="608.20" x2="166.90" y2="608.20" stroke="#1d4d72" stroke-width="1"/>
<polygon points="161.50,605.00 164.70,608.20 161.50,611.40 158.30,608.20" fill="#fff" stroke="#1d4d72" stroke-width="1"/>
<text x="170.00" y="586.20" font-size="7.6" textLength="37.70" lengthAdjust="spacingAndGlyphs">IgG control</text>
<text x="170.00" y="594.60" font-size="7.6" textLength="25.80" lengthAdjust="spacingAndGlyphs">(n = 25)</text>
<text x="170.00" y="606.20" font-size="7.6" textLength="34.50" lengthAdjust="spacingAndGlyphs">Anti-Ly6G</text>
<text x="170.00" y="614.60" font-size="7.6" textLength="25.80" lengthAdjust="spacingAndGlyphs">(n = 14)</text>
<text x="253.80" y="532.80" font-size="9.3" textLength="107.70" lengthAdjust="spacingAndGlyphs">Secondary LPS challenge</text>
<text x="275.40" y="544.20" font-size="9.3" textLength="63.10" lengthAdjust="spacingAndGlyphs">– 35mg/kg i.p.</text>
<line x1="255.90" y1="565.20" x2="255.90" y2="635.60" stroke="#111" stroke-width="1.35"/>
<line x1="255.30" y1="635.00" x2="358.50" y2="635.00" stroke="#111" stroke-width="1.5"/>
<line x1="252.90" y1="635.00" x2="255.90" y2="635.00" stroke="#1a1a1a" stroke-width="1"/>
<line x1="252.90" y1="621.62" x2="255.90" y2="621.62" stroke="#1a1a1a" stroke-width="1"/>
<line x1="252.90" y1="608.24" x2="255.90" y2="608.24" stroke="#1a1a1a" stroke-width="1"/>
<line x1="252.90" y1="594.86" x2="255.90" y2="594.86" stroke="#1a1a1a" stroke-width="1"/>
<line x1="252.90" y1="581.48" x2="255.90" y2="581.48" stroke="#1a1a1a" stroke-width="1"/>
<line x1="252.90" y1="568.10" x2="255.90" y2="568.10" stroke="#1a1a1a" stroke-width="1"/>
<line x1="255.90" y1="635.00" x2="255.90" y2="637.50" stroke="#1a1a1a" stroke-width="1"/>
<line x1="275.75" y1="635.00" x2="275.75" y2="637.50" stroke="#1a1a1a" stroke-width="1"/>
<line x1="295.60" y1="635.00" x2="295.60" y2="637.50" stroke="#1a1a1a" stroke-width="1"/>
<line x1="315.45" y1="635.00" x2="315.45" y2="637.50" stroke="#1a1a1a" stroke-width="1"/>
<line x1="335.30" y1="635.00" x2="335.30" y2="637.50" stroke="#1a1a1a" stroke-width="1"/>
<line x1="355.15" y1="635.00" x2="355.15" y2="637.50" stroke="#1a1a1a" stroke-width="1"/>
<text x="245.40" y="637.60" font-size="8.2" textLength="4.10" lengthAdjust="spacingAndGlyphs">0</text>
<text x="241.30" y="624.22" font-size="8.2" textLength="8.20" lengthAdjust="spacingAndGlyphs">20</text>
<text x="241.30" y="610.84" font-size="8.2" textLength="8.20" lengthAdjust="spacingAndGlyphs">40</text>
<text x="241.30" y="597.46" font-size="8.2" textLength="8.20" lengthAdjust="spacingAndGlyphs">60</text>
<text x="241.30" y="584.08" font-size="8.2" textLength="8.20" lengthAdjust="spacingAndGlyphs">80</text>
<text x="237.20" y="570.70" font-size="8.2" textLength="12.30" lengthAdjust="spacingAndGlyphs">100</text>
<text x="253.85" y="648.00" font-size="8.2" textLength="4.10" lengthAdjust="spacingAndGlyphs">0</text>
<text x="271.65" y="648.00" font-size="8.2" textLength="8.20" lengthAdjust="spacingAndGlyphs">50</text>
<text x="289.45" y="648.00" font-size="8.2" textLength="12.30" lengthAdjust="spacingAndGlyphs">100</text>
<text x="309.30" y="648.00" font-size="8.2" textLength="12.30" lengthAdjust="spacingAndGlyphs">150</text>
<text x="329.15" y="648.00" font-size="8.2" textLength="12.30" lengthAdjust="spacingAndGlyphs">200</text>
<text x="349.00" y="648.00" font-size="8.2" textLength="12.30" lengthAdjust="spacingAndGlyphs">250</text>
<text transform="translate(230.60,618.60) rotate(-90)" x="0" y="0" font-size="9.4" textLength="39.20" lengthAdjust="spacingAndGlyphs" fill="#1a1a1a">Survival (%)</text>
<text x="281.20" y="660.40" font-size="9.1" textLength="50.00" lengthAdjust="spacingAndGlyphs">Hours post LPS</text>
<path d="M255.90,568.10 L265.43,568.10 L265.43,625.43 L274.96,625.43 L274.96,635.00" fill="none" stroke="#3d74a3" stroke-width="1.0"/>
<path d="M255.90,568.10 L265.71,568.10 L265.71,572.58 L267.29,572.58 L267.29,577.00 L355.15,577.00" fill="none" stroke="#3d74a3" stroke-width="1.0"/>
<path d="M255.90,568.10 L265.43,568.10 L265.43,625.43 L294.29,625.43 L294.29,635.00" fill="none" stroke="#c0163c" stroke-width="1.0"/>
<path d="M255.90,568.10 L266.82,568.10 L266.82,588.17 L274.92,588.17 L274.92,594.86 L355.15,594.86" fill="none" stroke="#c0163c" stroke-width="1.0"/>
<circle cx="266.82" cy="588.17" r="1.8" fill="#a10d2e"/>
<circle cx="274.92" cy="594.86" r="1.8" fill="#a10d2e"/>
<circle cx="295.00" cy="594.86" r="1.8" fill="#a10d2e"/>
<circle cx="323.39" cy="594.86" r="1.8" fill="#a10d2e"/>
<circle cx="355.94" cy="594.86" r="1.8" fill="#a10d2e"/>
<rect x="264.01" y="570.88" width="3.40" height="3.40" fill="#1d4d72"/>
<rect x="265.59" y="575.30" width="3.40" height="3.40" fill="#1d4d72"/>
<rect x="293.30" y="575.30" width="3.40" height="3.40" fill="#1d4d72"/>
<rect x="321.69" y="575.30" width="3.40" height="3.40" fill="#1d4d72"/>
<rect x="354.24" y="575.30" width="3.40" height="3.40" fill="#1d4d72"/>
<circle cx="265.43" cy="625.43" r="2.0" fill="#fff" stroke="#c0163c" stroke-width="1"/>
<circle cx="294.29" cy="635.00" r="2.0" fill="#fff" stroke="#c0163c" stroke-width="1"/>
<rect x="273.16" y="633.20" width="3.60" height="3.60" fill="#fff" stroke="#1d4d72" stroke-width="1"/>
<text x="368.40" y="578.00" font-size="7.2" textLength="24.30" lengthAdjust="spacingAndGlyphs">Groups</text>
<line x1="368.40" y1="583.50" x2="483.00" y2="583.50" stroke="#1a1a1a" stroke-width="1"/>
<line x1="368.00" y1="590.30" x2="377.30" y2="590.30" stroke="#c0163c" stroke-width="1"/>
<circle cx="372.70" cy="590.30" r="2.1" fill="#a10d2e"/>
<text x="380.80" y="592.70" font-size="7.2" textLength="90.00" lengthAdjust="spacingAndGlyphs">male – IgG control (n = 10)</text>
<line x1="368.00" y1="601.50" x2="377.30" y2="601.50" stroke="#3d74a3" stroke-width="1"/>
<rect x="370.60" y="599.40" width="4.20" height="4.20" fill="#1d4d72"/>
<text x="380.80" y="603.90" font-size="7.2" textLength="96.70" lengthAdjust="spacingAndGlyphs">female – IgG control (n = 15)</text>
<line x1="368.00" y1="612.30" x2="377.30" y2="612.30" stroke="#c0163c" stroke-width="1"/>
<circle cx="372.70" cy="612.30" r="2.1" fill="#fff" stroke="#c0163c" stroke-width="1"/>
<text x="380.80" y="614.70" font-size="7.2" textLength="80.20" lengthAdjust="spacingAndGlyphs">male – anti-Ly6G (n = 7)</text>
<line x1="368.00" y1="623.50" x2="377.30" y2="623.50" stroke="#3d74a3" stroke-width="1"/>
<rect x="370.60" y="621.40" width="4.20" height="4.20" fill="#fff" stroke="#1d4d72" stroke-width="1"/>
<text x="380.80" y="625.90" font-size="7.2" textLength="86.90" lengthAdjust="spacingAndGlyphs">female – anti-Ly6G (n = 7)</text>
</svg>
</body></html>
